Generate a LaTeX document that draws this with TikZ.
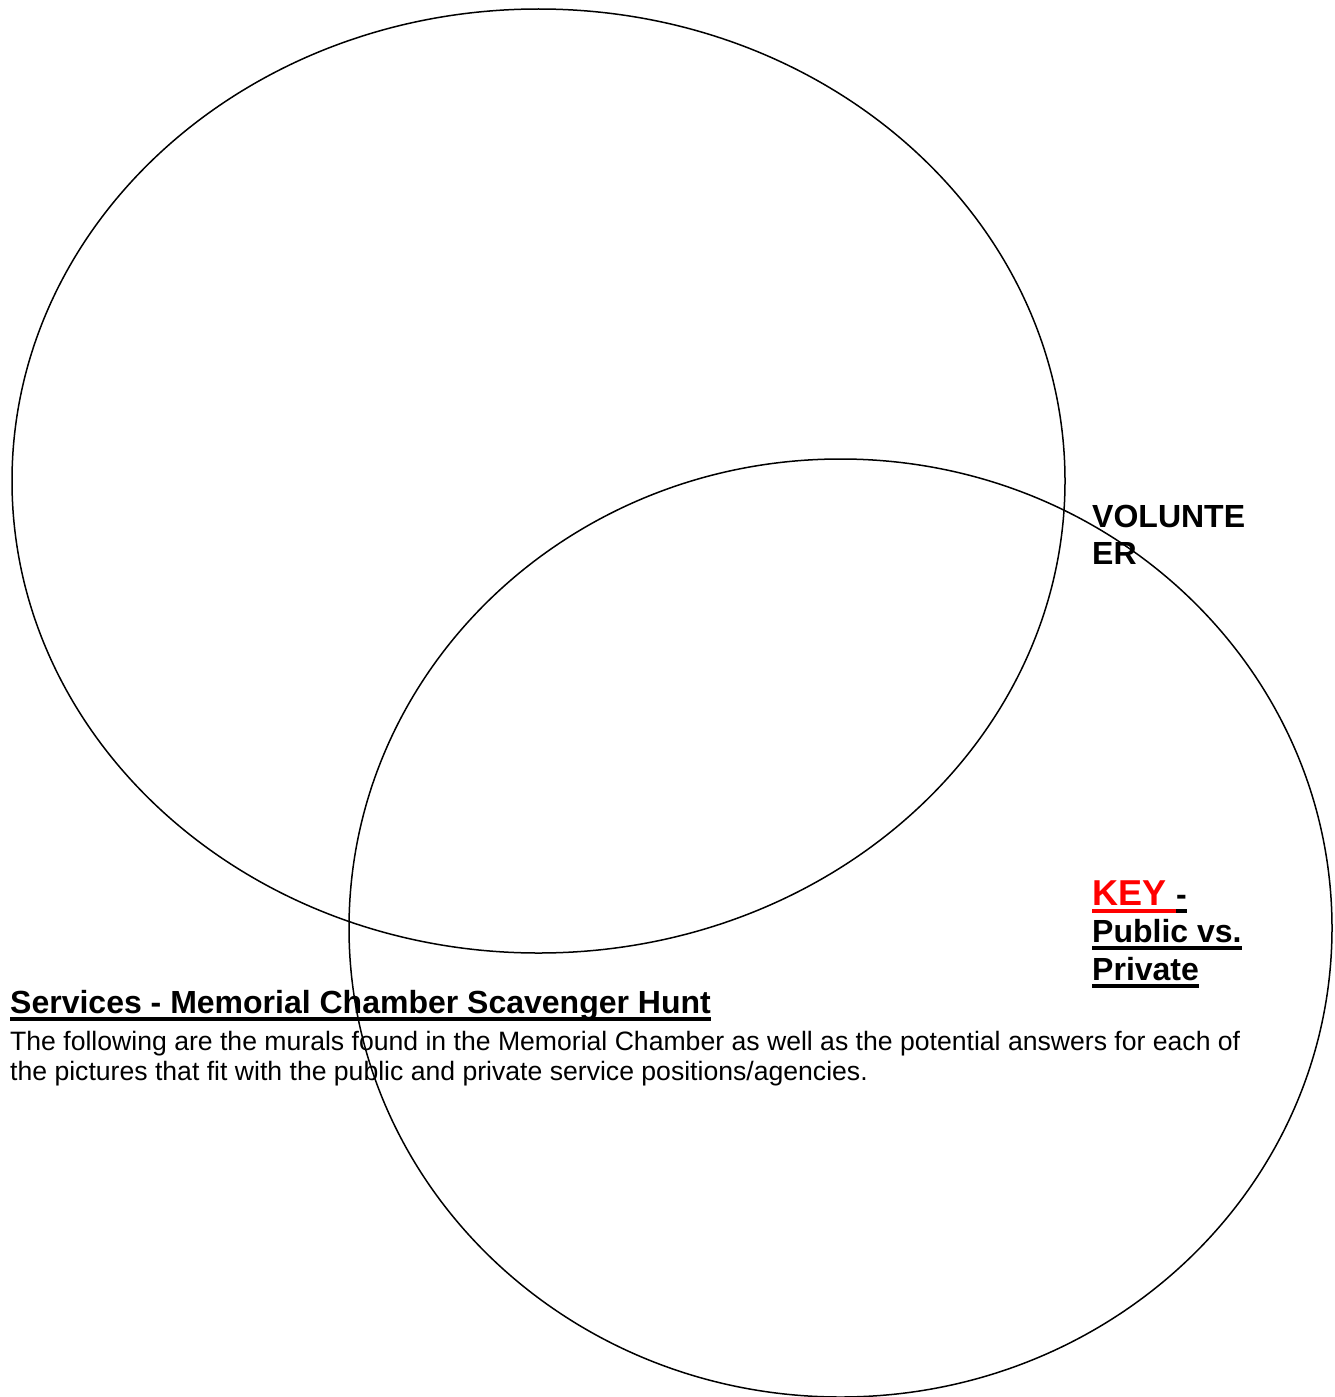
\documentclass[tikz,border=0pt]{standalone}
\usepackage{fontspec}
\setmainfont{Liberation Sans}
\newcommand\myul[2][black]{\setbox0\hbox{#2}\rlap{\color{#1}\rule[-7.5pt]{\wd0}{3.2pt}}\box0}
\begin{document}
\begin{tikzpicture}[x=1pt,y=-1pt,
  ring/.style={line width=1.5pt},
  lbl/.style={anchor=base west,inner sep=0pt,font=\fontsize{32}{37}\selectfont\bfseries},
  ttl/.style={anchor=base west,inner sep=0pt,font=\fontsize{32}{36}\selectfont\bfseries},
  body/.style={anchor=base west,inner sep=0pt,font=\fontsize{26.6}{30}\selectfont}]
\useasboundingbox[fill=white] (0,0) rectangle (1335,1397);
\draw[ring] (538.5,481) ellipse [x radius=526.5, y radius=472];
\draw[ring] (840.5,928) ellipse [x radius=491.5, y radius=469];
\node[lbl] (vol1) at (1092,527) {VOLUNTE};
\node[lbl] (vol2) at (1092,564) {ER};
\node[lbl] (key1) at (1092,905) {\myul[red]{\textcolor{red}{\fontsize{36}{40}\selectfont KEY\ }}\myul[black]{\textcolor{black}{-}}};
\node[lbl] (key2) at (1092,942) {\myul{Public vs.}};
\node[lbl] (key3) at (1092,980) {\myul{Private}};
\node[ttl] (title) at (10,1013) {\myul{Services - Memorial Chamber Scavenger Hunt}};
\node[body] (b1) at (10,1050) {The following are the murals found in the Memorial Chamber as well as the potential answers for each of};
\node[body] (b2) at (10,1080) {the pictures that fit with the public and private service positions/agencies.};
\end{tikzpicture}
\end{document}
